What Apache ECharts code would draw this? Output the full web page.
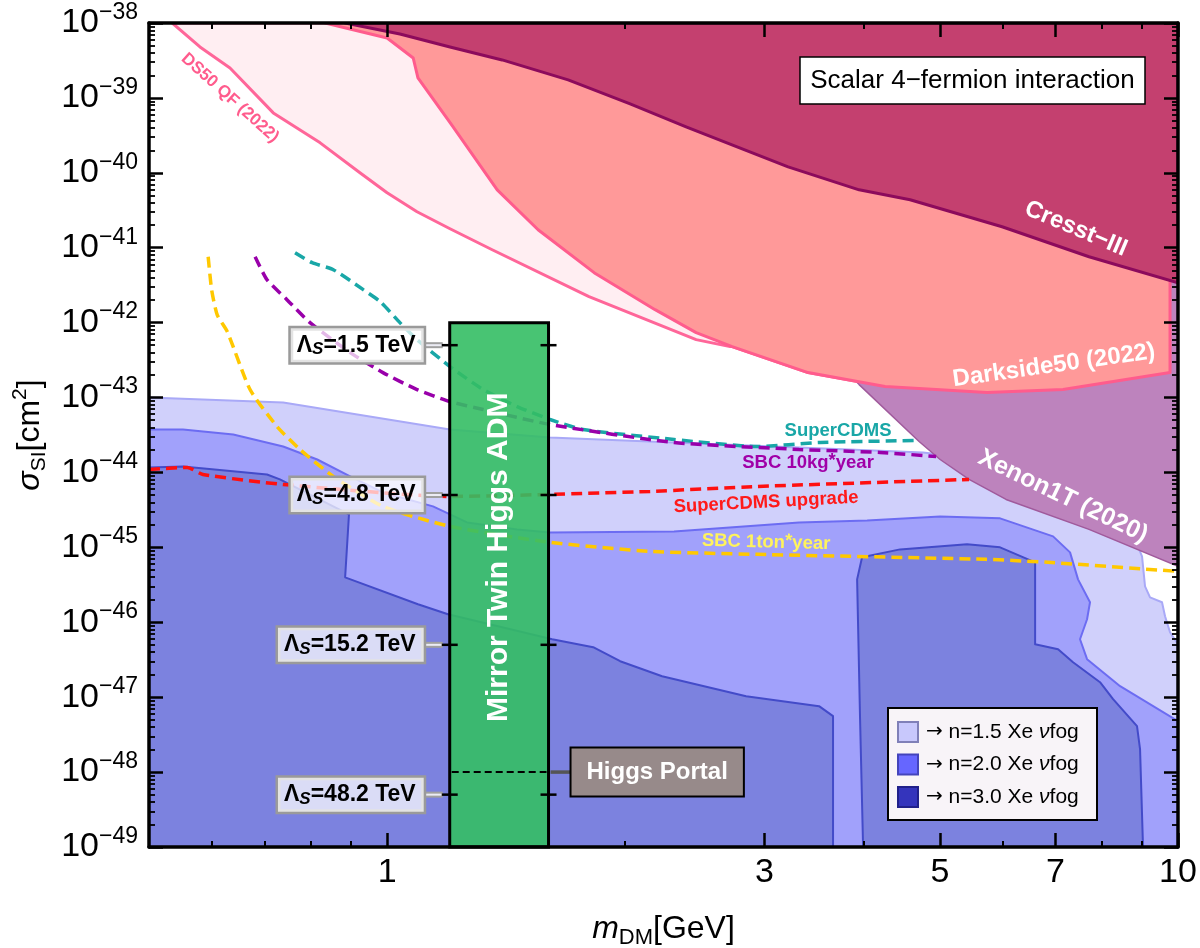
<!DOCTYPE html>
<html><head><meta charset="utf-8">
<script src="https://cdn.jsdelivr.net/npm/echarts@6/dist/echarts.min.js"></script>
<style>html,body{margin:0;padding:0;background:#fff}#c{width:1200px;height:948px}</style>
</head><body><div id="c"></div>
<script>
// ===== data: [dark-matter mass (GeV), log10(sigma_SI / cm^2)] =====
const xMajorTicks = [1, 3, 5, 7, 10];
const xMinorTicks = [0.6, 0.7, 0.8, 0.9, 2, 4, 6, 8, 9];
const yDecadeMin = -49, yDecadeMax = -38;

const cresstIII = [[0.885,-38],[1.038,-38.147],[1.201,-38.32],[1.398,-38.493],[1.694,-38.76],[2.029,-39.08],[2.388,-39.387],[3.214,-39.92],[3.952,-40.227],[4.584,-40.36],[5.992,-40.72],[7.718,-41.12],[10,-41.467]];
const darkside50 = [[0.835,-38],[1.0,-38.2],[1.079,-38.467],[1.094,-38.733],[1.205,-39.35],[1.378,-40.227],[1.552,-40.76],[1.827,-41.333],[2.182,-41.827],[2.459,-42.133],[2.731,-42.32],[3.406,-42.667],[4.262,-42.853],[5.735,-42.933],[7.155,-42.893],[9.77,-42.667]];
const ds50QF = [[0.535,-38],[0.58,-38.32],[0.633,-38.6],[0.718,-39.2],[0.823,-39.6],[0.924,-40],[1.0,-40.267],[1.091,-40.52],[1.201,-40.747],[1.358,-41.027],[1.8,-41.653],[2.459,-42.227],[2.715,-42.32]];
const xenon1T = [[3.739,-42.56],[3.952,-42.827],[4.706,-43.587],[5.003,-43.827],[5.443,-44.093],[6.062,-44.36],[7.718,-44.76],[10,-45.253]];

const fogN15 = [[0.5,-43],[0.739,-43.067],[1.201,-43.427],[1.607,-43.533],[2.306,-43.6],[3.318,-43.667],[4.761,-43.733],[5.957,-43.853],[7.969,-44.36],[8.824,-44.893],[9.006,-45.12],[9.085,-45.52],[9.218,-45.667],[9.545,-45.733],[9.63,-45.92],[9.77,-46.133],[10,-46.293]];
const fogN20 = [[0.5,-43.427],[0.552,-43.427],[0.639,-43.493],[0.739,-43.653],[0.816,-43.827],[0.898,-44.053],[0.988,-44.267],[1.143,-44.453],[1.262,-44.667],[1.46,-44.76],[1.607,-44.8],[2.306,-44.787],[3.318,-44.667],[4.045,-44.64],[5.003,-44.587],[5.957,-44.613],[6.951,-44.853],[7.303,-45.067],[7.475,-45.427],[7.74,-45.733],[7.674,-45.96],[7.518,-46.227],[7.674,-46.493],[8.449,-46.853],[10,-47.32]];
const fogN30a = [[0.5,-43.933],[0.552,-43.92],[0.705,-44.027],[0.732,-44.093],[0.895,-44.56],[0.885,-45.4],[1.094,-45.76],[1.194,-45.893],[1.617,-46.227],[1.822,-46.333],[1.971,-46.52],[2.227,-46.72],[2.844,-46.987],[3.517,-47.12],[3.663,-47.253],[3.663,-49],[0.5,-49]];
const fogN30b = [[3.998,-49],[3.963,-47.293],[3.929,-45.427],[3.986,-45.133],[4.452,-45.027],[5.41,-44.96],[5.957,-45],[6.597,-45.2],[6.597,-46.293],[7.053,-46.36],[7.367,-46.533],[7.969,-46.8],[8.278,-47.027],[8.875,-47.387],[8.954,-47.693],[9.032,-49]];

const superCDMS = [[0.765,-41.067],[0.804,-41.2],[0.855,-41.293],[0.933,-41.56],[0.98,-41.72],[1.038,-42],[1.091,-42.227],[1.201,-42.587],[1.323,-42.893],[1.46,-43.12],[1.607,-43.293],[1.769,-43.427],[2.306,-43.56],[2.936,-43.653],[3.528,-43.6],[4.706,-43.573]];
const sbc10kg = [[0.681,-41.12],[0.705,-41.427],[0.747,-41.693],[0.799,-42],[0.898,-42.4],[0.988,-42.667],[1.091,-42.893],[1.201,-43.053],[1.323,-43.16],[1.607,-43.36],[2.306,-43.6],[3.318,-43.693],[4.201,-43.733],[4.945,-43.787]];
const superCDMSUpgrade = [[0.5,-43.96],[0.559,-43.933],[0.585,-44.027],[0.739,-44.16],[1.201,-44.32],[1.607,-44.293],[2.15,-44.253],[2.936,-44.187],[5.443,-44.093]];
const sbc1ton = [[0.594,-41.12],[0.6,-41.56],[0.61,-41.9],[0.628,-42.12],[0.671,-42.893],[0.726,-43.387],[0.776,-43.693],[0.855,-44.053],[0.988,-44.453],[1.201,-44.72],[1.607,-44.933],[2.15,-45.053],[2.936,-45.093],[5.719,-45.16],[6.852,-45.2],[9.97,-45.32]];

const twinHiggsMass = [1.2, 1.6];
const twinHiggsTop = -42;
const lambdaScaleTeV = ['1.5', '4.8', '15.2', '48.2'];
const lambdaSigma = [-42.301, -44.301, -46.301, -48.301];
const higgsPortalSigma = -48;

const labelTexts = ['Cresst−III', 'Darkside50 (2022)', 'Xenon1T (2020)', 'DS50 QF (2022)', 'SuperCDMS', 'SBC 10kg*year', 'SuperCDMS upgrade', 'SBC 1ton*year'];
const labelAnchors = [[7.43,-40.747],[6.97,-42.573],[7.155,-44.32],[0.633,-39.0],[3.717,-43.44],[3.406,-43.867],[3.014,-44.4],[3.014,-44.933]];
const twinHiggsLabelSigma = -45.133;
const legendN = ['1.5', '2.0', '3.0'];

// ===== chart =====
const LOG = Math.log10;
const FONT = "'Liberation Sans', Arial, Helvetica, sans-serif";
const toXY = pts => pts.map(p => [LOG(p[0]), p[1]]);

function polySeries(pts, fill, stroke, lw, z) {
  return {
    type: 'custom', coordinateSystem: 'cartesian2d', clip: true, silent: true, z: z,
    data: [[0, -45]],
    renderItem: (params, api) => ({
      type: 'polygon',
      shape: { points: pts.map(p => api.coord([LOG(p[0]), p[1]])) },
      style: { fill: fill, stroke: stroke, lineWidth: lw, lineJoin: 'round' }
    })
  };
}
function dashSeries(pts, color) {
  return {
    type: 'line', data: toXY(pts), showSymbol: false, symbol: 'none', smooth: 0.2, silent: true, z: 4,
    lineStyle: { color: color, width: 3.5, type: [11, 6] }
  };
}

const qfPoly = ds50QF.concat(darkside50.filter(p => p[0] > 2.72)).concat([[10, -42.6], [10, -38]]);
const dsPoly = darkside50.concat([[9.77, -38]]);
const crPoly = cresstIII.concat([[10, -38]]);
const xePoly = xenon1T.concat([[10, -38], [3.739, -38]]);
const f15Poly = fogN15.concat([[10, -49], [0.5, -49]]);
const f20Poly = fogN20.concat([[10, -49], [0.5, -49]]);

const labelStyles = [
  { fill: '#fff', size: 24, rot: -23 },
  { fill: '#fff', size: 24, rot: 8 },
  { fill: '#fff', size: 25, rot: -25.7 },
  { fill: '#FF5C8D', size: 17, rot: -42 },
  { fill: '#19A7A7', size: 18.5, rot: 0 },
  { fill: '#A000A8', size: 18.5, rot: 0 },
  { fill: '#FF1A1A', size: 18.5, rot: 3 },
  { fill: '#FFF35C', size: 18.5, rot: -1.5 }
];

function labelRender(params, api) {
  const i = params.dataIndex;
  const st = labelStyles[i];
  const c = api.coord([api.value(0), api.value(1)]);
  let txt = labelTexts[i];
  const rich = {
    a: { fontSize: st.size, fontWeight: 'bold', fontFamily: FONT, fill: st.fill, lineHeight: st.size + 4 },
    p: { fontSize: st.size, fontWeight: 'bold', fontFamily: FONT, fill: st.fill, lineHeight: 10, verticalAlign: 'top' }
  };
  if (txt.indexOf('*') >= 0) {
    const parts = txt.split('*');
    txt = '{a|' + parts[0] + '}{p|*}{a|' + parts[1] + '}';
  } else {
    txt = '{a|' + txt + '}';
  }
  return {
    type: 'text', x: c[0], y: c[1], rotation: st.rot * Math.PI / 180,
    style: { text: txt, rich: rich, align: 'center', verticalAlign: 'middle' }
  };
}

function annotationRender(params, api) {
  const L = api.coord([LOG(twinHiggsMass[0]), twinHiggsTop]);
  const R = api.coord([LOG(twinHiggsMass[1]), yDecadeMin]);
  const x0 = L[0], x1 = R[0], y0 = L[1], y1 = R[1];
  const ch = [];
  ch.push({ type: 'rect', shape: { x: x0, y: y0, width: x1 - x0, height: y1 - y0 },
    style: { fill: 'rgba(52,190,100,0.9)', stroke: '#000', lineWidth: 3 } });
  const yh = api.coord([0, higgsPortalSigma])[1];
  ch.push({ type: 'line', shape: { x1: x0 + 2, y1: yh, x2: x1 - 2, y2: yh }, style: { stroke: '#000', lineWidth: 2, lineDash: [7, 4] } });
  ch.push({ type: 'line', shape: { x1: x1 + 2, y1: yh, x2: x1 + 24, y2: yh }, style: { stroke: '#555', lineWidth: 3.5 } });
  ch.push({ type: 'text', x: x1 + 23, y: yh, style: {
    text: 'Higgs Portal', fill: '#fff', font: 'bold 24px ' + FONT, align: 'left', verticalAlign: 'middle',
    backgroundColor: '#978A8A', borderColor: '#000', borderWidth: 2, padding: [12, 15, 11, 15] } });
  lambdaSigma.forEach((s, i) => {
    const y = api.coord([0, s])[1];
    ch.push({ type: 'line', shape: { x1: x0 - 26, y1: y, x2: x0 - 7, y2: y }, style: { stroke: '#A0A0A0', lineWidth: 6 } });
    ch.push({ type: 'line', shape: { x1: x0 - 26, y1: y, x2: x0 - 7, y2: y }, style: { stroke: '#ECECF4', lineWidth: 2 } });
    ch.push({ type: 'line', shape: { x1: x0 - 8, y1: y, x2: x0 + 8, y2: y }, style: { stroke: '#000', lineWidth: 2.5 } });
    ch.push({ type: 'line', shape: { x1: x1 - 8, y1: y, x2: x1 + 8, y2: y }, style: { stroke: '#000', lineWidth: 2.5 } });
    ch.push({ type: 'text', x: x0 - 26, y: y, style: {
      text: '{L|Λ}{s|S}{t|=' + lambdaScaleTeV[i] + ' TeV}',
      rich: {
        L: { fontSize: 23, fontWeight: 'bold', fontFamily: FONT, fill: '#000', lineHeight: 26 },
        s: { fontSize: 17, fontWeight: 'bold', fontStyle: 'italic', fontFamily: FONT, fill: '#000', lineHeight: 12, verticalAlign: 'bottom' },
        t: { fontSize: 23, fontWeight: 'bold', fontFamily: FONT, fill: '#000', lineHeight: 26 }
      },
      align: 'right', verticalAlign: 'middle',
      backgroundColor: 'rgba(255,255,255,0.72)', borderColor: '#9A9A9A', borderWidth: 2.5, padding: [4, 8, 4, 6] } });
  });
  const cy = api.coord([0, twinHiggsLabelSigma])[1];
  ch.push({ type: 'text', x: (x0 + x1) / 2, y: cy, rotation: Math.PI / 2, style: {
    text: 'Mirror Twin Higgs ADM', fill: '#fff', font: 'bold 30px ' + FONT, align: 'center', verticalAlign: 'middle' } });
  return { type: 'group', children: ch };
}

const legendColors = [
  { fill: '#C8C8FC', stroke: '#8080B8' },
  { fill: '#6666FF', stroke: '#4444BB' },
  { fill: '#3434BC', stroke: '#20208A' }
];
function frameRender(params, api) {
  const tr = api.coord([xMax, yDecadeMax]);   // top-right corner of plot
  const br = api.coord([xMax, yDecadeMin]);   // bottom-right corner of plot
  const ch = [];
  const tx = tr[0] - 378, ty = tr[1] + 34;
  ch.push({ type: 'rect', shape: { x: tx, y: ty, width: 345, height: 47 }, style: { fill: '#fff', stroke: '#000', lineWidth: 1.5 } });
  ch.push({ type: 'text', x: tx + 172.5, y: ty + 24, style: { text: 'Scalar 4−fermion interaction', font: '26px ' + FONT, fill: '#000', align: 'center', verticalAlign: 'middle' } });
  const lx = br[0] - 290, ly = br[1] - 139;
  ch.push({ type: 'rect', shape: { x: lx, y: ly, width: 209, height: 112 }, style: { fill: '#F8F4F8', stroke: '#000', lineWidth: 2 } });
  legendN.forEach((n, i) => {
    const cy = ly + 24 + i * 32.5;
    ch.push({ type: 'rect', shape: { x: lx + 10, y: cy - 10, width: 20, height: 20 }, style: { fill: legendColors[i].fill, stroke: legendColors[i].stroke, lineWidth: 2 } });
    ch.push({ type: 'text', x: lx + 38, y: cy, style: {
      text: '{r|→}{a| n=' + n + ' Xe }{i|ν}{a|fog}', verticalAlign: 'middle', align: 'left',
      rich: {
        r: { fontSize: 20, fontFamily: "'DejaVu Sans', sans-serif", fill: '#000', lineHeight: 24 },
        a: { fontSize: 21, fontFamily: FONT, fill: '#000', lineHeight: 24 },
        i: { fontSize: 21, fontStyle: 'italic', fontFamily: FONT, fill: '#000', lineHeight: 24 } } } });
  });
  return { type: 'group', children: ch };
}

const xMin = LOG(0.5), xMax = 1;
const xMajorV = xMajorTicks.map(LOG);
const xMinorV = xMinorTicks.map(LOG);
const yMinorV = [];
for (let d = yDecadeMin; d < yDecadeMax; d++) for (let k = 2; k <= 9; k++) yMinorV.push(d + LOG(k));

function axisLineOf(major) {
  return { show: major, onZero: false, lineStyle: { color: '#000', width: 3.5 } };
}
function xAx(pos, major, withLabel) {
  return {
    type: 'value', min: xMin, max: xMax, position: pos, z: 10,
    axisLine: axisLineOf(major),
    splitLine: { show: false },
    axisTick: { show: true, inside: true, length: major ? 14 : 6, customValues: major ? xMajorV : xMinorV,
      lineStyle: { color: '#000', width: major ? 2.5 : 2 } },
    axisLabel: withLabel ? {
      show: true, customValues: xMajorV, margin: 9, color: '#000', fontSize: 34, fontFamily: FONT, lineHeight: 34,
      formatter: v => String(Math.round(Math.pow(10, v)))
    } : { show: false }
  };
}
function yAx(pos, major, withLabel) {
  const o = {
    type: 'value', min: yDecadeMin, max: yDecadeMax, position: pos, z: 10,
    axisLine: axisLineOf(major),
    splitLine: { show: false },
    axisTick: { show: true, inside: true, length: major ? 14 : 6, lineStyle: { color: '#000', width: major ? 2.5 : 1.8 } },
    axisLabel: { show: false }
  };
  if (major) o.interval = 1; else o.axisTick.customValues = yMinorV;
  if (withLabel) {
    o.axisLabel = {
      show: true, margin: 11, color: '#000',
      formatter: v => '{b|10}{s|−' + Math.round(-v) + '}',
      rich: {
        b: { fontSize: 34, lineHeight: 44, fontFamily: FONT, color: '#000' },
        s: { fontSize: 23, lineHeight: 16, verticalAlign: 'top', fontFamily: FONT, color: '#000' }
      }
    };
  }
  return o;
}

const xAxes = [xAx('bottom', true, true), xAx('bottom', false, false), xAx('top', true, false), xAx('top', false, false)];
xAxes[0].name = '{i|m}{sub|DM}{n|[GeV]}';
xAxes[0].nameLocation = 'middle';
xAxes[0].nameGap = 62;
xAxes[0].nameTextStyle = { rich: {
  i: { fontSize: 32, fontStyle: 'italic', fontFamily: FONT, color: '#000', lineHeight: 40 },
  sub: { fontSize: 22, fontFamily: FONT, color: '#000', lineHeight: 18, verticalAlign: 'bottom' },
  n: { fontSize: 32, fontFamily: FONT, color: '#000', lineHeight: 40 } } };
const yAxes = [yAx('left', true, true), yAx('left', false, false), yAx('right', true, false), yAx('right', false, false)];
yAxes[0].name = '{i|σ}{sub|SI}{n|[cm}{sup|2}{n|]}';
yAxes[0].nameLocation = 'middle';
yAxes[0].nameRotate = 90;
yAxes[0].nameGap = 99;
yAxes[0].nameTextStyle = { rich: {
  i: { fontSize: 32, fontStyle: 'italic', fontFamily: FONT, color: '#000', lineHeight: 40 },
  sub: { fontSize: 21, fontFamily: FONT, color: '#000', lineHeight: 18, verticalAlign: 'bottom' },
  sup: { fontSize: 21, fontFamily: FONT, color: '#000', lineHeight: 14, verticalAlign: 'top' },
  n: { fontSize: 32, fontFamily: FONT, color: '#000', lineHeight: 40 } } };

const option = {
  animation: false,
  backgroundColor: '#fff',
  grid: { left: 149, right: 22, top: 23, bottom: 101, containLabel: false, outerBoundsMode: 'none' },
  xAxis: xAxes,
  yAxis: yAxes,
  series: [
    polySeries(f15Poly, '#D0D0FB', '#A9A9F7', 2, 1),
    polySeries(f20Poly, '#A1A1FB', '#6C6CF2', 2, 1),
    polySeries(fogN30a, '#7C82DF', '#434BC9', 2, 1),
    polySeries(fogN30b, '#7C82DF', '#434BC9', 2, 1),
    polySeries(qfPoly, '#FFEEF2', '#FF6699', 3, 2),
    polySeries(xePoly, '#BD83BD', '#A05A9C', 1.5, 2),
    polySeries(dsPoly, '#FF9999', '#FF5C8D', 3, 2),
    polySeries(crPoly, '#C4406F', '#8C0A5C', 3, 2),
    dashSeries(superCDMS, '#19A7A7'),
    dashSeries(sbc10kg, '#9900AA'),
    dashSeries(superCDMSUpgrade, '#FF1010'),
    dashSeries(sbc1ton, '#FFC800'),
    { type: 'custom', coordinateSystem: 'cartesian2d', clip: false, silent: true, z: 6, data: [[0, -45]], renderItem: annotationRender },
    { type: 'custom', coordinateSystem: 'cartesian2d', clip: false, silent: true, z: 7,
      data: labelAnchors.map(p => [LOG(p[0]), p[1]]), renderItem: labelRender },
    { type: 'custom', coordinateSystem: 'cartesian2d', clip: false, silent: true, z: 8, data: [[0, -45]], renderItem: frameRender }
  ]
};
const chart = echarts.init(document.getElementById('c'));
chart.setOption(option);
</script></body></html>
